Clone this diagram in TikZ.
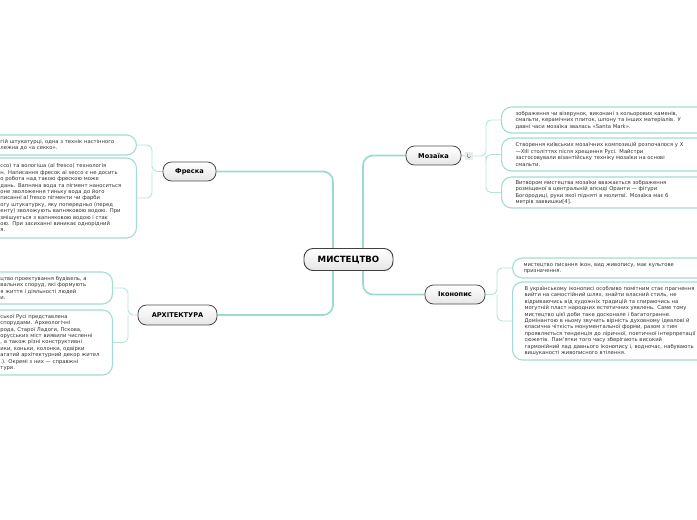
\documentclass[tikz,border=0pt]{standalone}
\usepackage{fontspec}
\setmainfont{DejaVu Sans}
\usepackage{xcolor}
\usepackage{tikz}
\usetikzlibrary{positioning, backgrounds}

\definecolor{trunkc}{HTML}{9ADACF}
\definecolor{branchc}{HTML}{B3E3DC}
\definecolor{boxc}{HTML}{A3DCD3}
\definecolor{txtc}{HTML}{333333}

\begin{document}
\begin{tikzpicture}[
  x=1pt, y=-1pt,
  root/.style={draw=black!75, line width=0.9pt, rounded corners=9pt, top color=white, bottom color=black!10, font=\bfseries\fontsize{8.6}{9}\selectfont, minimum width=89pt, minimum height=22pt, inner sep=0pt},
  topic/.style={draw=black!70, line width=0.8pt, rounded corners=8.5pt, top color=white, bottom color=black!10, font=\bfseries\fontsize{6.6}{7}\selectfont, minimum height=19pt, inner sep=0pt},
  fold/.style={fill=black!8, minimum size=8pt, inner sep=0pt},
  note/.style={draw=boxc, line width=1.1pt, fill=white, rounded corners=10pt, align=left, text=txtc, font=\fontsize{5.25}{6.4}\selectfont, inner ysep=1pt},
  noteleft/.style={note, anchor=east, inner xsep=10pt},
  noteright/.style={note, anchor=west, inner xsep=14pt},
  trunk/.style={draw=trunkc, line width=1.7pt, rounded corners=10pt},
  branch/.style={draw=branchc, line width=0.9pt, rounded corners=5pt}
]
\useasboundingbox (0,0) rectangle (697,520);
\clip (0,0) rectangle (697,520);

% Central node
\node (mist) [root] at (348.5,259.5) {МИСТЕЦТВО};

% Main topics
\node (freska) [topic, minimum width=53pt] at (189.5,171.5) {Фреска};
\node (arch)   [topic, minimum width=79pt, minimum height=20pt] at (177.5,315) {АРХІТЕКТУРА};
\node (moz)    [topic, minimum width=55pt] at (433.5,155.5) {Мозаїка};
\node (ikon)   [topic, minimum width=60pt] at (455,294.5) {Іконопис};

% Fold marker next to the mosaic topic
\node (mozfold) [fold] at (469,156) {};
\draw [black!55, line width=0.5pt, rounded corners=1pt] ([shift={(-1.5pt,2.5pt)}]mozfold.center) -- ++(0,-4pt) -- ++(3pt,0) -- ++(0,1pt);

% Notes of the fresco topic
\node (f1) [noteleft, text width=126pt, minimum height=20pt] at (137,145)
  {гій штукатурці, одна з технік настінного\\лежна до «а секко».};
\node (f2) [noteleft, text width=126pt, minimum height=80pt] at (137,198)
  {cco) та вологіша (al fresco) технологія\\н. Написання фресок al secco є не досить\\о робота над такою фрескою може\\дань. Вапняна вода та пігмент наноситься\\оне зволоження тиньку вода до його\\писанні al fresco пігменти чи фарби\\огу штукатурку, яку попередньо (перед\\енту) зволожують вапняковою водою. При\\змішується з вапняковою водою і стає\\ою. При засиханні виникає однорідний\\я.};

% Notes of the architecture topic
\node (a1) [noteleft, text width=102pt, minimum height=32pt] at (113,288)
  {цтво проектування будівель, а\\вальних споруд, які формують\\я життя і діяльності людей\\и.};
\node (a2) [noteleft, text width=102pt, minimum height=65pt] at (113,342.5)
  {ської Русі представлена\\спорудами. Археологічні\\рода, Старої Ладоги, Пскова,\\орусських міст виявили численні\\, а також різні конструктивні\\ики, коньки, колонки, одвірки\\агатий архітектурний декор жител\\.). Окремі з них — справжні\\тури.};

% Notes of the mosaic topic
\node (m1) [noteright, text width=180pt, minimum height=26pt] at (501,120)
  {зображення чи візерунок, виконані з кольорових каменів,\\смальти, керамічних плиток, шпону та інших матеріалів. У\\давні часи мозаїка звалась «Santa Mark».};
\node (m2) [noteright, text width=180pt, minimum height=33pt] at (501,154.5)
  {Створення київських мозаїчних композицій розпочалося у X\\—XIII століттях після хрещення Русі. Майстри\\застосовували візантійську техніку мозаїки на основі\\смальти.};
\node (m3) [noteright, text width=180pt, minimum height=31pt] at (501,192.5)
  {Витвором мистецтва мозаїки вважається зображення\\розміщеної в центральній апсиді Оранти — фігури\\Богородиці, руки якої підняті в молитві. Мозаїка має 6\\метрів заввишки[4].};

% Notes of the icon topic
\node (i1) [noteright, inner xsep=11pt, text width=190pt, minimum height=20pt] at (512,268)
  {мистецтво писання ікон, вид живопису, має культове\\призначення.};
\node (i2) [noteright, inner xsep=12pt, text width=200pt, minimum height=78pt] at (512,321)
  {В українському іконописі особливо помітним стає прагнення\\вийти на самостійний шлях, знайти власний стиль, не\\відриваючись від художніх традицій та спираючись на\\могутній пласт народних естетичних уявлень. Саме тому\\мистецтво цієї доби таке досконале і багатогранне.\\Домінантою в ньому звучить вірність духовному ідеалові й\\класична чіткість монументальної форми, разом з тим\\проявляється тенденція до ліричної, поетичної інтерпретації\\сюжетів. Пам'ятки того часу зберігають високий\\гармонійний лад давнього іконопису і, водночас, набувають\\вишуканості живописного втілення.};

% Connections
\begin{scope}[on background layer]
\coordinate (lbus) at (333,259);
\coordinate (rbus) at (363,259);
\draw [trunk] (lbus) |- (freska.east);
\draw [trunk] (lbus) |- (arch.east);
\draw [trunk] (rbus) |- (moz.west);
\draw [trunk] (rbus) |- (ikon.west);

\coordinate (fbus) at (152,171.5);
\draw [branch] (freska.west) -- (fbus) |- (f1.east);
\draw [branch] (fbus) |- (f2.east);

\coordinate (abus) at (128,315);
\draw [branch] (arch.west) -- (abus) |- (a1.east);
\draw [branch] (abus) |- (a2.east);

\coordinate (mbus) at (486,156);
\draw [branch] (moz.east) -- (mozfold.west);
\draw [branch] (mozfold.east) -- (mbus) |- (m1.west);
\draw [branch] (mbus) |- (m2.west);
\draw [branch] (mbus) |- (m3.west);

\coordinate (ibus) at (497,294.5);
\draw [branch] (ikon.east) -- (ibus) |- (i1.west);
\draw [branch] (ibus) |- (i2.west);
\end{scope}

\end{tikzpicture}
\end{document}
